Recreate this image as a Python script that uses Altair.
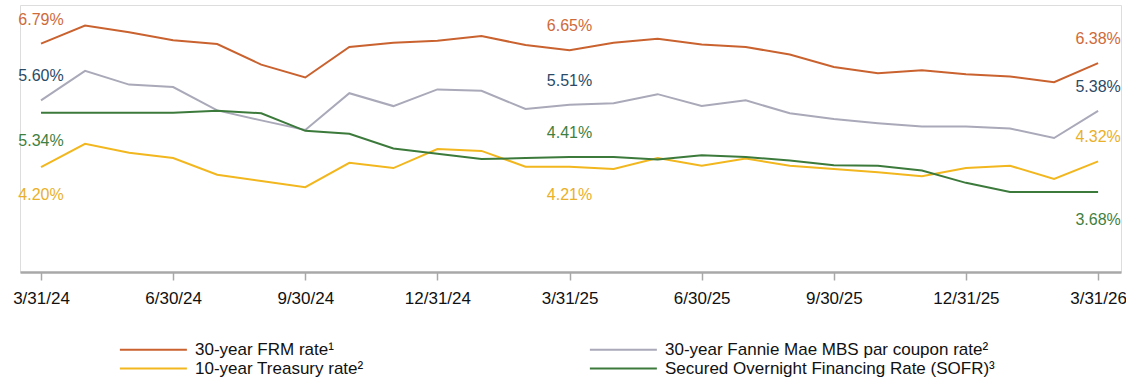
import altair as alt
import pandas as pd

# ---- data ----
dates = ["3/31/24", "4/30/24", "5/31/24", "6/30/24", "7/31/24", "8/31/24", "9/30/24",
         "10/31/24", "11/30/24", "12/31/24", "1/31/25", "2/28/25", "3/31/25", "4/30/25",
         "5/31/25", "6/30/25", "7/31/25", "8/31/25", "9/30/25", "10/31/25", "11/30/25",
         "12/31/25", "1/31/26", "2/28/26", "3/31/26"]

series_names = ["30-year FRM rate¹",
                "30-year Fannie Mae MBS par coupon rate²",
                "10-year Treasury rate²",
                "Secured Overnight Financing Rate (SOFR)³"]

frm = [6.79, 7.17, 7.03, 6.86, 6.78, 6.35, 6.08, 6.72, 6.81, 6.85, 6.95, 6.76, 6.65,
       6.81, 6.89, 6.77, 6.72, 6.56, 6.30, 6.17, 6.23, 6.15, 6.10, 5.98, 6.38]
mbs = [5.60, 6.22, 5.93, 5.88, 5.39, 5.18, 4.98, 5.75, 5.48, 5.83, 5.80, 5.42, 5.51,
       5.54, 5.73, 5.48, 5.60, 5.33, 5.21, 5.12, 5.05, 5.05, 5.01, 4.81, 5.38]
tsy = [4.20, 4.69, 4.50, 4.39, 4.04, 3.91, 3.78, 4.29, 4.18, 4.58, 4.54, 4.21, 4.21,
       4.16, 4.39, 4.23, 4.38, 4.23, 4.16, 4.09, 4.01, 4.18, 4.23, 3.95, 4.32]
sofr = [5.34, 5.34, 5.34, 5.34, 5.38, 5.33, 4.96, 4.90, 4.59, 4.48, 4.37, 4.39, 4.41,
        4.41, 4.36, 4.45, 4.41, 4.34, 4.24, 4.23, 4.13, 3.87, 3.68, 3.68, 3.68]

tick_every = 3
label_points = [0, 12, 24]            # where values are annotated
# placement of each annotation relative to its line
label_side = {
    series_names[0]: ["above", "above", "above"],
    series_names[1]: ["above", "above", "above"],
    series_names[2]: ["below", "below", "above"],
    series_names[3]: ["below", "above", "below"],
}

# ---- styles ----
line_colors = ["#c9622f", "#a9a9b9", "#f2b71e", "#3c7a3c"]
label_colors = ["#cf6a3a", "#2b4a66", "#e9b02a", "#3f7f3f"]
side_offset = {"above": -24, "below": 28}
FONT = "Liberation Sans"

all_values = [frm, mbs, tsy, sofr]

rows = []
for name, vals in zip(series_names, all_values):
    for i, (d, v) in enumerate(zip(dates, vals)):
        rows.append({"series": name, "idx": i, "date": d, "rate": v})
df = pd.DataFrame(rows)

lab_rows = []
for name, vals, lc in zip(series_names, all_values, label_colors):
    for k, i in enumerate(label_points):
        lab_rows.append({"series": name, "idx": i, "rate": vals[i],
                         "text": f"{vals[i]:.2f}%",
                         "side": label_side[name][k],
                         "lcolor": lc})
labels = pd.DataFrame(lab_rows)

label_array = "[" + ",".join(f"'{d}'" for d in dates) + "]"

x_scale = alt.Scale(domain=[-0.477, 24.52], nice=False, zero=False)
y_scale = alt.Scale(domain=[2.0, 7.6], nice=False, zero=False)

x_axis = alt.Axis(values=list(range(0, len(dates), tick_every)),
                  labelExpr=f"{label_array}[round(datum.value)]",
                  title=None, grid=False,
                  domainColor="#a8a8a8", domainWidth=2.5,
                  tickColor="#a8a8a8", tickSize=8, tickWidth=1.5,
                  labelFontSize=17, labelColor="#111111", labelFont=FONT,
                  labelPadding=10, labelOverlap=False, labelFlush=False,
                  labelBound=False)

# legend stroke: custom path, 8 units long, scaled by sqrt(symbolSize)/2
legend_path = "M-7,0H1"
legend_sym_size = (67 / 4) ** 2

lines = alt.Chart(df).mark_line(strokeWidth=2).encode(
    x=alt.X("idx:Q", scale=x_scale, axis=x_axis),
    y=alt.Y("rate:Q", scale=y_scale, axis=None),
    color=alt.Color("series:N",
                    scale=alt.Scale(domain=series_names, range=line_colors),
                    sort=series_names,
                    legend=alt.Legend(title=None, orient="none", direction="horizontal",
                                      legendX=149, legendY=335,
                                      columns=2, columnPadding=221,
                                      rowPadding=1, padding=0,
                                      symbolType=legend_path, symbolSize=legend_sym_size,
                                      symbolStrokeWidth=2, symbolFillColor="transparent",
                                      labelFontSize=17, labelFont=FONT,
                                      labelColor="#111111", labelOffset=7,
                                      labelLimit=500)),
    order=alt.Order("idx:Q"),
)

def text_layer(side):
    return alt.Chart(labels).transform_filter(
        alt.datum.side == side
    ).mark_text(fontSize=16, font=FONT, align="center", baseline="middle",
                dy=side_offset[side]).encode(
        x=alt.X("idx:Q", scale=x_scale),
        y=alt.Y("rate:Q", scale=y_scale),
        text="text:N",
        color=alt.Color("lcolor:N", scale=None),
    )

chart = alt.layer(lines, text_layer("above"), text_layer("below")).properties(
    width=1101, height=267,
    padding={"left": 20, "right": 5, "top": 5, "bottom": 106},
    autosize=alt.AutoSizeParams(type="none"),
).configure_view(stroke=None).configure(background="white")

chart.save("out.html", embed_options={"renderer": "svg", "actions": False})
